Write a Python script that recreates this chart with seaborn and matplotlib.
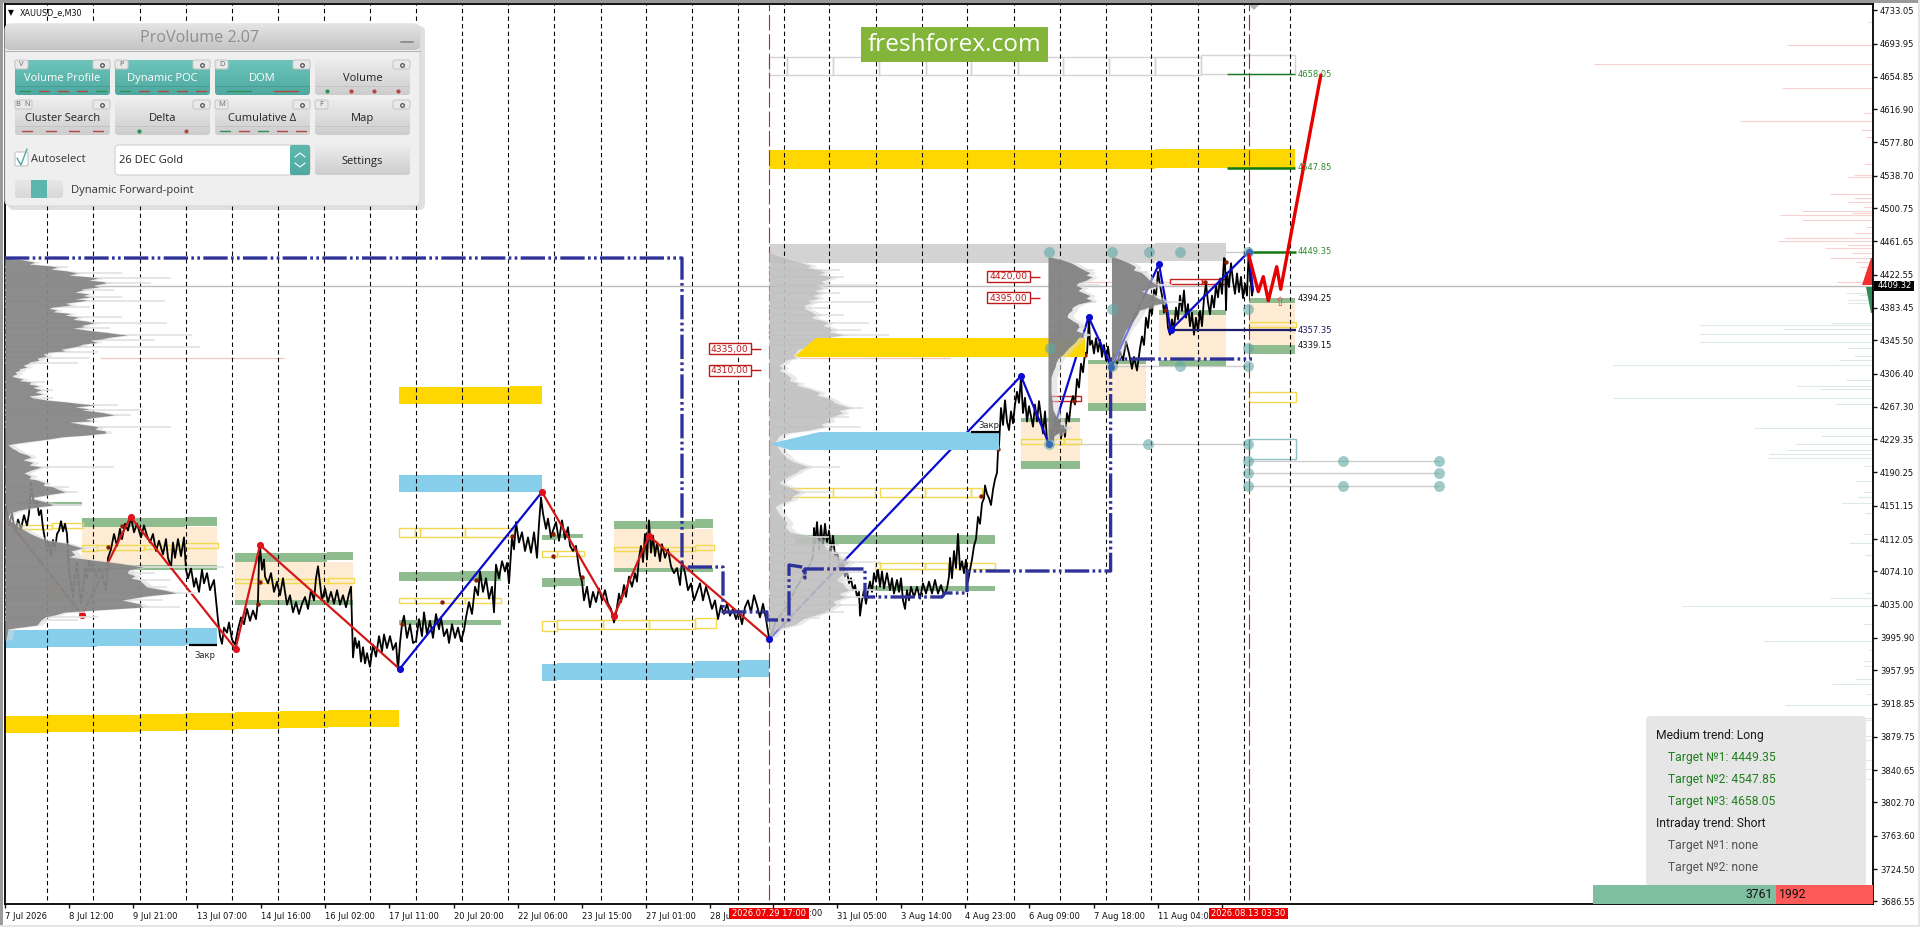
import numpy as np
import pandas as pd
import matplotlib
matplotlib.use("Agg")
import matplotlib.pyplot as plt
import seaborn as sns
from matplotlib.patches import Rectangle, FancyBboxPatch, Polygon
from matplotlib.colors import LinearSegmentedColormap

# ---------- axis data ----------
price_ticks = [4733.05,4693.95,4654.85,4616.90,4577.80,4538.70,4500.75,4461.65,4422.55,4383.45,4345.50,4306.40,
               4267.30,4229.35,4190.25,4151.15,4112.05,4074.10,4035.00,3995.90,3957.95,3918.85,3879.75,3840.65,
               3802.70,3763.60,3724.50,3686.55]
time_ticks = [5,69,133,197,261,325,389,453.5,517.5,582,645.8,709.5,773,837,901,965,1029,1093.5,1157.6,1221.6]
time_labels = ["7 Jul 2026","8 Jul 12:00","9 Jul 21:00","13 Jul 07:00","14 Jul 16:00","16 Jul 02:00","17 Jul 11:00",
               "20 Jul 20:00","22 Jul 06:00","23 Jul 15:00","27 Jul 01:00","28 Ju","","31 Jul 05:00",
               "3 Aug 14:00","4 Aug 23:00","6 Aug 09:00","7 Aug 18:00","11 Aug 04:0",""]
separators = [47.3,93.4,139.5,185.6,231.7,277.8,323.9,370,416.1,462.2,508.3,554.4,600.5,645.7,691.8,738,783.7,829.4,
              875.5,921.6,967.3,1013.5,1059.6,1105.7,1151.4,1197.6,1243.7,1289.5]
session_marks = [769.4,1248.6]
last_price = 4409.32

# ---------- price path ----------
session_1 = [(6,4150),(9,4128),(12,4142),(15,4120),(18,4135),(21,4124),(24,4140),(27,4128),(29,4142),(31,4178),(33,4160),(35,4150),(37,4156),(39,4140),(41,4146),(43,4125),(45,4112),(47,4098),(49,4108),(51,4092),(53,4111),(55,4099),(57,4118),(59,4122),(61,4133),(63,4121),(65,4130),(67,4118),(69,4076),(71,4060),(73,4044),(75,4070),(77,4084),(79,4058),(81,4037),(83,4052),(85,4078),(87,4066),(89,4086),(91,4074),(93,4084),(96,4068),(99,4078),(102,4072),(104,4060),(106,4052),(108,4090),(111,4100),(114,4118),(117,4104),(120,4124),(122,4112),(125,4130),(128,4122),(131,4138),(134,4120),(137,4130),(141,4114),(144,4128),(147,4116),(150,4108),(153,4118),(156,4098),(159,4110),(163,4094),(166,4112),(168,4090),(171,4079),(173,4108),(175,4090),(178,4112),(181,4092),(184,4114),(186,4076),(188,4066),(191,4078),(194,4056),(196,4066),(199,4050),(202,4076),(204,4060),(207,4072),(210,4052),(214,4064),(216,4040),(218,4017)]
session_2 = [(220,3998),(222,3989),(224,4008),(227,4002),(229,4014),(232,3994),(235,3988),(238,4006),(241,4020),(244,4012),(247,4030),(250,4016),(253,4028),(256,4018),(258,4040),(259,4090),(260,4103),(262,4076),(264,4088),(265,4068),(268,4060),(271,4072),(274,4050),(277,4062),(280,4046),(283,4066),(285,4050),(287,4035),(290,4046),(293,4026),(296,4038),(299,4024),(302,4036),(305,4044),(308,4030),(311,4052),(314,4040),(316,4066),(318,4080),(320,4060),(322,4040),(325,4054),(328,4038),(331,4050),(334,4036),(337,4052),(340,4035),(343,4046),(346,4032),(349,4048),(351,4056),(353,3973),(355,3996),(357,3984),(359,3992),(361,3968),(363,3985),(365,3966),(367,3978),(370,3962),(373,3988),(376,3974),(379,3998),(382,3980),(384,4000),(387,3984),(390,3998),(393,3982),(396,3990),(398,3958)]
session_3 = [(400,3990),(402,4012),(404,4022),(407,3996),(410,4012),(413,3990),(416,3992),(419,4018),(422,3998),(424,4026),(427,4000),(430,4016),(433,3996),(436,4024),(439,4006),(441,4020),(444,3998),(447,4006),(449,3990),(452,4012),(455,3996),(458,4008),(461,3992),(464,4005),(466,4020),(469,4038),(472,4024),(475,4056),(478,4046),(480,4074),(483,4050),(486,4066),(489,4042),(492,4056),(494,4026),(496,4082),(499,4066),(502,4086),(505,4074),(507,4084),(509,4060),(512,4114),(514,4100),(516,4132),(519,4108),(522,4120),(525,4098),(528,4114),(531,4096),(534,4120),(537,4090),(539,4130),(541,4161),(543,4142),(546,4124),(548,4136),(551,4114),(553,4122),(556,4132),(559,4110),(562,4134),(565,4112),(568,4126),(570,4104),(573,4098),(576,4104),(578,4086),(580,4070),(582,4062),(584,4040),(587,4056),(590,4032),(593,4050),(596,4038),(599,4054),(602,4040),(605,4052),(608,4036),(611,4030),(614,4014)]
session_4 = [(616,4024),(619,4048),(621,4038),(624,4058),(626,4044),(629,4068),(632,4056),(635,4072),(637,4062),(639,4090),(641,4104),(643,4085),(645,4118),(647,4088),(649,4134),(651,4096),(653,4116),(655,4092),(657,4108),(660,4086),(662,4106),(665,4090),(668,4100),(671,4080),(674,4072),(677,4078),(680,4058),(682,4086),(685,4072),(688,4052),(691,4060),(694,4040),(697,4050),(700,4060),(703,4040),(706,4056),(709,4044),(712,4030),(715,4040),(718,4018),(721,4034),(724,4024),(727,4036),(730,4022),(733,4030),(736,4018),(739,4028),(742,4012),(745,4032),(748,4040),(751,4026),(754,4046),(757,4034),(760,4020),(763,4036),(766,4018),(769,3996)]
session_5 = [(772,4002),(776,4016),(780,4022),(785,4030),(790,4040),(795,4052),(800,4062),(805,4074),(810,4082),(813,4092),(814,4125),(815,4105),(817,4132),(819,4100),(821,4128),(823,4104),(825,4130),(827,4108),(829,4122),(831,4098),(833,4116),(835,4092),(837,4096),(839,4086),(841,4076),(843,4082),(845,4068),(847,4074),(849,4060),(851,4066),(853,4052),(855,4058),(857,4044),(859,4050),(860,4022),(862,4040),(864,4052),(866,4036),(868,4052),(870,4062),(872,4050),(874,4072),(876,4062),(878,4076),(880,4056),(882,4074),(884,4054),(887,4072),(890,4052),(892,4066),(894,4048),(897,4064),(899,4050),(901,4066),(903,4040),(905,4030),(907,4052),(909,4040),(911,4056),(914,4044),(917,4056),(920,4042),(923,4060),(926,4048),(929,4062),(932,4048),(935,4064),(938,4048),(941,4058),(944,4046),(947,4054),(949,4068),(950,4090),(952,4066),(954,4098),(956,4078),(958,4118),(960,4076)]
session_6 = [(962,4086),(964,4072),(966,4088),(968,4062),(970,4076),(972,4088),(974,4104),(976,4112),(978,4138),(980,4130),(982,4154),(984,4160),(985,4175),(987,4165),(989,4160),(991,4152),(993,4170),(995,4182),(997,4190),(998,4215),(999,4222),(1000,4245),(1001,4266),(1003,4246),(1005,4275),(1007,4250),(1009,4240),(1011,4262),(1013,4248),(1015,4270),(1017,4285),(1019,4272),(1021,4302),(1023,4260),(1025,4278),(1027,4250),(1029,4268),(1031,4256),(1033,4244),(1035,4270),(1037,4250),(1039,4274),(1041,4256),(1043,4236),(1045,4262),(1047,4228),(1049,4222)]
session_7 = [(1051,4240),(1053,4228),(1055,4256),(1057,4236),(1059,4252),(1061,4230),(1063,4245),(1065,4232),(1067,4260),(1069,4250),(1071,4272),(1073,4280),(1075,4270),(1077,4300),(1079,4290),(1081,4318),(1083,4308),(1085,4331),(1087,4330),(1089,4372),(1090,4340),(1092,4345),(1094,4330),(1096,4348),(1098,4332),(1100,4346),(1102,4326),(1104,4340),(1106,4322),(1108,4338),(1110,4320),(1112,4312)]
session_8 = [(1114,4330),(1117,4318),(1120,4332),(1123,4322),(1126,4344),(1129,4330),(1132,4312),(1134,4326),(1137,4310),(1140,4336),(1142,4350),(1144,4340),(1146,4372),(1148,4360),(1150,4385),(1152,4376),(1154,4405),(1156,4398),(1158,4426),(1160,4410),(1162,4398),(1164,4378),(1166,4390),(1168,4360),(1170,4352)]
session_9 = [(1172,4370),(1174,4358),(1176,4384),(1178,4370),(1180,4398),(1182,4380),(1184,4404),(1186,4372),(1188,4388),(1190,4362),(1192,4378),(1194,4352),(1196,4372),(1198,4356),(1200,4380),(1202,4362),(1204,4395),(1206,4412),(1208,4390),(1210,4376),(1212,4398),(1214,4384),(1216,4410),(1218,4396),(1220,4418),(1222,4400),(1224,4442),(1225,4441),(1226,4381),(1227,4425),(1229,4408),(1231,4436),(1233,4415),(1235,4400),(1237,4424),(1239,4402),(1241,4420),(1243,4395),(1245,4412),(1247,4398),(1248.5,4445),(1250,4425),(1252,4398),(1253,4405)]

# ---------- swing lines ----------
zig_red_1 = [(6,4136.8),(82,4022.8),(130.6,4138),(235.5,3982.9),(260,4105),(399.6,3959.4)]
zig_blue_1 = [(399.6,3959.4),(542,4167.3)]
zig_red_2 = [(542,4167.3),(614,4021.7),(649,4115.6),(769.4,3994.6)]
zig_blue_2 = [(769.4,3994.6),(1021,4303.5),(1049,4223.7),(1088.6,4372.8),(1111.4,4314.1),(1159,4435.1),(1170.7,4357.6),(1248.7,4449.35),(1253,4404.5)]
forecast = [(1248.7,4445.7),(1258.3,4402.6),(1263.3,4420.2),(1268.3,4392),(1276.7,4431.9),(1280.7,4405.4),(1320.8,4657)]
poc_path = [(5,4442.1),(682,4442.1),(682,4079.2),(723,4079.2),(723,4026.4),(767,4026.4),(767,4017),(789,4017),(789,4081.6),
            (803,4079),(805,4066.3),(805,4076.9),(865,4076.9),(865,4044),(942,4044),(945,4048.7),(967,4048.7),(967,4074.5),
            (1110.6,4074.5),(1110.6,4323.5),(1252,4323.5)]
small_dots = [(15,4125),(122,4127.4),(108,4102.7),(260,4061.6),(258,4035.7),(441.6,4038),(475.5,4064),(553,4118),(553,4092),
              (581.6,4067.5),(512,4115.6),(402,4012),(998,4217.8),(981,4162.6),(1085,4328),(1074,4274),(1226,4437.4),(1205,4414),(1165,4381)]
teal_dots = [(1049,4449.35),(1112,4449.35),(1148.6,4449.35),(1180,4449.35),(1248,4449.35),(1111.7,4382.2),(1248,4382.2),(1050,4336.4),
             (1248,4336.4),(1180,4315.3),(1111.7,4315.3),(1248,4315.3),(1049,4223.7),(1148,4223.7),(1248,4223.7),(1248,4203.7),(1343,4203.7),
             (1439,4203.7),(1248,4189.6),(1439,4189.6),(1248,4174.3),(1343,4174.3),(1439,4174.3)]
gray_links = [(1049,1248,4449.35),(1112,1248,4315.3),(1049,1248,4223.7),(1248,1439,4203.7),(1248,1439,4189.6),(1248,1439,4174.3)]

# ---------- zones: (start, end, low, high) ----------
gold_bands = [(399,510,4270.6,4290.6),(510,542,4270.6,4291.8),(769,1155,4546.7,4569),(1155,1295,4547.8,4570.2),
              (5,48,3884.2,3904.2),(48,140,3885.4,3905.4),(140,185,3886.6,3906.6),(185,235,3887.8,3907.7),(235,280,3889,3908.9),
              (280,328,3890.1,3910.1),(328,373,3891.3,3911.3),(373,399,3891.3,3911.3)]
sky_bands = [(399,542,4167.3,4187.3),(542,557,3945.3,3965.3),(557,695,3946.5,3966.5),(695,741,3948.8,3968.8),(741,769,3950,3970),
             (5,48,3984,4005.2),(48,97,3985.2,4006.4),(97,185,3986.4,4006.4),(185,217,3987.6,4007.6)]
silver_bands = [(769,1155,4436.2,4458.6),(1155,1226,4438.6,4459.8)]
bisque_zones = [(82,217,4081.6,4126.2),(235,353,4040.4,4085),(614,713,4078,4123.8),(1021,1080,4203.7,4249.5),
                (1088,1146,4271.8,4317.6),(1159,1226,4322.3,4375.2),(1249,1295,4339.9,4389.3)]
green_zones = [(82,185,4126.2,4136.8),(185,217,4127.4,4138),(82,217,4075.7,4081.6),(15,82,4150.8,4155.6),(235,327,4085,4095.6),
               (327,353,4087.4,4096.8),(235,353,4034.6,4040.4),(399,460,4062.8,4073.3),(460,501,4062.8,4074),(399,501,4011,4016.9),
               (542,557,4110.9,4116.8),(557,583,4113.3,4118),(542,557,4055.7,4066.3),(557,585,4056.9,4066.3),(614,695,4123.8,4133.2),
               (695,713,4125,4135.6),(614,713,4073.3,4078),(795,995,4106.2,4116.8),(869,995,4051,4056.9),(1021,1080,4249.5,4254.2),
               (1021,1080,4194.3,4203.7),(1088,1146,4317.6,4322.3),(1088,1146,4262.4,4271.8),(1159,1226,4375.2,4381),(1159,1226,4315.3,4322.3),
               (1249,1295,4389.3,4395.1),(1249,1295,4329.4,4339.9)]
gold_boxes = [(13,52,4123.8,4128.5),(52,83,4125,4131),(82,97,4098,4105),(97,144,4099.2,4105),(144,185,4100.3,4105),(185,218,4101.5,4107.4),
              (5,52,4044,4053.4),(52,66,4044,4053.4),(235,282,4060.4,4065),(282,328,4060.4,4065),(328,354,4060.4,4066.3),
              (399,415,4114.4,4125),(415,420,4114.4,4125),(420,465,4114.4,4125),(465,513,4114.4,4125),(399,415,4036.9,4042.8),
              (415,465,4036.9,4042.8),(465,501,4036.9,4042.8),(542,557,4091,4098),(557,584,4092.1,4098),(542,557,4004,4015.8),
              (557,603,4006.4,4016.9),(603,649,4006.4,4016.9),(649,695,4006.4,4016.9),(695,716,4007.6,4019.3),(614,695,4098,4102.7),
              (695,714,4099.2,4105),(783,833,4161.4,4172),(833,875,4161.4,4172),(880,925,4161.4,4172),(925,971,4161.4,4172),(971,982,4161.4,4172),
              (875,880,4076.9,4083.9),(880,925,4076.9,4083.9),(925,948,4076.9,4083.9),(948,995,4076.9,4083.9),(1021,1064,4223.7,4229.5),
              (1064,1081,4223.7,4229.5),(1249,1296,4361.1,4367),(1249,1296,4273,4284.7)]
gray_boxes = [(769,787,4657.1,4678.2),(787,833,4657.1,4678.2),(833,879,4657.1,4678.2),(879,926,4657.1,4678.2),(926,971,4657.1,4678.2),
              (971,1017.5,4657.1,4678.2),(1017.5,1063,4657.1,4678.2),(1063,1109,4657.1,4678.2),(1109,1155,4657.1,4678.2),(1155,1201,4657.1,4678.2),
              (1201,1295,4658.2,4680.6)]
red_boxes = [(1050,1081,4274,4280),(1170,1202,4411.6,4417.5),(1202,1227,4411.6,4417.5)]
teal_boxes = [(1249,1296,4206.1,4229.5)]

# ---------- volume profiles: (price, volume) ----------
p1_core = [(4442,0),(4441,10),(4439.8,19),(4437,30),(4435,24),(4433,44),(4431.6,52),(4429,46),(4427,62),(4424.5,72),(4422,64),(4420,84),(4418.6,93),(4416,84),(4414.5,98),(4412.8,101),(4410,88),(4408,94),(4406,78),(4404.5,77),(4402,70),(4400,84),(4398,78),(4396.3,85),(4394,70),(4393,82),(4391.6,77),(4389,60),(4387,66),(4384.6,48),(4383,44),(4381,52),(4379,48),(4377,66),(4375,60),(4372.8,73),(4370,68),(4368,82),(4365.8,89),(4363,76),(4361.5,80),(4359.9,68),(4357,84),(4355,100),(4353,112),(4351.7,122),(4349,104),(4347,96),(4345.8,85),(4343,92),(4341,78),(4339,74),(4337.6,68),(4335,56),(4333,60),(4331.7,44),(4329,38),(4327,42),(4324.7,32),(4322,34),(4320,24),(4318.8,24),(4316,18),(4314,22),(4312,14),(4310.6,15),(4308,10),(4306,12),(4304,7),(4302.4,9),(4300,18),(4298,14),(4296.5,26),(4294,24),(4292,34),(4290,28),(4287.1,36),(4285,30),(4282,38),(4280,24),(4277.7,28),(4275,44),(4273,62),(4271,76),(4269.5,89),(4267,70),(4265,84),(4263.6,77),(4261,96),(4259,104),(4257.7,109),(4255,90),(4253,80),(4251,88),(4249.5,64),(4247,76),(4245,88),(4243.6,93),(4241,90),(4239,100),(4236.6,101),(4234,80),(4232,56),(4230,46),(4228.4,36),(4226,20),(4224,8),(4222.5,3),(4220,6),(4218,8),(4216.6,11),(4214,14),(4211,22),(4208.4,26),(4205,18),(4202,28),(4199,24),(4196.7,36),(4193,26),(4189.6,19),(4186,26),(4183,24),(4181.4,32),(4178,40),(4175,38),(4173.2,48),(4170,54),(4167.3,60),(4164,42),(4160.3,24),(4157,36),(4154,44),(4152,48),(4149,28),(4146,14),(4142.6,5),(4138,3),(4134.4,3),(4130,10),(4126,14),(4122.7,19),(4118,26),(4114,34),(4111,40),(4107,62),(4104,70),(4101.5,77),(4098,66),(4094,70),(4091,64),(4087,90),(4084,112),(4079.2,138),(4076,124),(4072.2,122),(4069,130),(4066,126),(4064,134),(4060,138),(4055.7,142),(4052,160),(4048.7,171),(4045,140),(4040.4,117),(4036,134),(4032.2,138),(4029,96),(4026.4,60),(4023,50),(4020.5,40),(4017,36),(4014,34),(4011,32),(4008,12),(4006.4,3),(3993.5,1)]
p1_spike_price = [4431.6,4424.5,4418.6,4412.8,4404.5,4396.3,4391.6,4384.6,4372.8,4365.8,4359.9,4351.7,4345.8,4337.6,4331.7,4324.7,4318.8,4296.5,4287.1,4277.7,4269.5,4263.6,4257.7,4249.5,4243.6,4196.7,4173.2,4167.3,4152,4101.5,4091,4079.2,4072.2,4064,4055.7,4048.7,4040.4,4032.2,4026.4,4020.5,4017]
p1_spike_size = [63,117,166,146,109,117,160,85,117,162,105,187,150,195,93,85,73,40,48,48,113,138,126,85,166,109,64,73,77,93,77,219,150,166,162,191,158,175,80,93,73]
p2_core = [(4449,0),(4445,8),(4443,14),(4440,22),(4436,34),(4433,42),(4431,38),(4428,51),(4425,56),(4423,50),(4420,63),(4417,58),(4415,52),(4412,56),(4410,47),(4407,54),(4404,46),(4401,51),(4398,44),(4395,50),(4392,38),(4390,43),(4387,36),(4383,35),(4381,39),(4378,44),(4375,47),(4372,42),(4369,52),(4366,59),(4363,54),(4360,60),(4357.6,63),(4355,60),(4352,75),(4349,58),(4346,51),(4343,42),(4340,47),(4337,36),(4334,28),(4331,27),(4328,24),(4325,27),(4322,16),(4319,14),(4316,10),(4313,14),(4310,10),(4308,14),(4305,18),(4301,22),(4298,20),(4295,30),(4293,27),(4290,36),(4287,44),(4284,51),(4281,48),(4278,58),(4275,63),(4272,66),(4269,74),(4266,80),(4263,70),(4260,74),(4256,63),(4253,58),(4250,60),(4247,52),(4244,55),(4240,40),(4236,14),(4232,9),(4229,8),(4226,6),(4222,8),(4218,10),(4214,12),(4210,16),(4207,18),(4203,24),(4200,32),(4197,39),(4193,30),(4190,27),(4186,20),(4182,14),(4178,10),(4174,18),(4170,26),(4167,31),(4163,24),(4158,22),(4154,12),(4150,6),(4146,8),(4142,10),(4137,14),(4131,18),(4126,16),(4120,22),(4117,34),(4114,47),(4110,50),(4105,55),(4100,58),(4096,63),(4092,68),(4088,74),(4085,80),(4081,76),(4077,70),(4073,76),(4069,72),(4064,67),(4060,74),(4056,76),(4052,80),(4048,70),(4044,76),(4039,64),(4035,67),(4030,60),(4026,55),(4022,44),(4019,35),(4015,30),(4012,27),(4008,14),(4005,6),(3997,2)]
p2_spike_price = [4428,4419.8,4410.4,4401,4390.4,4383.4,4375.2,4365.8,4357.6,4351.7,4345.8,4340,4266,4255.4,4243.6,4196.7,4167.3,4114.4,4105,4095.6,4085,4073.3,4064,4052.2,4044,4034.6,4026.4,4019.3]
p2_spike_size = [71,75,108,71,106,60,75,100,92,120,70,60,94,80,92,71,63,60,70,80,112,96,86,106,100,90,75,51]
p3_core = [(4443,3),(4440,14),(4436,24),(4432,30),(4428,36),(4425,42),(4422,38),(4420,44),(4416,38),(4413,30),(4410,28),(4407,34),(4404,30),(4401,36),(4398,42),(4395,38),(4392,44),(4388,30),(4384,24),(4381,24),(4377,20),(4373,19),(4369,24),(4365,30),(4361,31),(4357,28),(4354,34),(4352,36),(4348,30),(4343,27),(4338,22),(4333,18),(4329,15),(4324,10),(4319,8),(4314,7),(4309,5),(4302,3),(4284,3),(4275,4),(4264,5),(4256,8),(4248,11),(4243,17),(4238,12),(4234,7),(4229,3),(4225,0)]
p3_spike_price = [4428,4410.4,4390.4,4361.1,4351.7,4243]
p3_spike_size = [46,52,48,36,42,24]
p4_core = [(4443,3),(4440,10),(4436,18),(4432,24),(4428,22),(4425,30),(4421,34),(4416,38),(4413,42),(4410,47),(4406,36),(4403,30),(4399,40),(4394,48),(4390,55),(4387,42),(4383,34),(4381,28),(4376,26),(4369,22),(4363,18),(4357,14),(4351,12),(4345,10),(4339,8),(4334,6),(4328,4),(4324,2),(4321,0)]
p4_spike_price = [4425.7,4410.4,4390.4,4381]
p4_spike_size = [36,60,70,34]

# ---------- order book ----------
ask_price = [4719,4692.3,4670,4641.8,4612.4,4603,4592.5,4584.2,4552.5,4539.6,4537.3,4517.3,4512.6,4507.9,4502,4497.3,4495,4492.6,4486.8,4478.5,4471.5,4465.6,4462.1,4457.4,4453.9,4448,4442.1,4437.4,4431.6,4425.7,4422.2,4414,4411.6]
ask_size = [5,86,279,91,9,133,12,7,8,19,25,43,19,25,9,71,21,93,71,7,19,88,95,25,48,21,43,17,13,9,7,36,11]
bid_price = [4401,4398.7,4392.8,4389.3,4365.8,4363.4,4358.7,4352.9,4343.5,4336.4,4327,4322.3,4316.5,4298.8,4291.8,4288.3,4277.7,4270.7,4242.5,4233.1,4223.7,4216.6,4211.9,4207.2,4197.8,4180.2,4167.3,4161.4,4154.4,4142.6,4117.9,4107.4,4093.3,4048.7,4042.8,4033.4,4012.3,3992.3,3981.7,3968.8,3963,3947.7,3941.8,3930,3917.1,3901.9,3899.5,3880.7,3876,3852.5,3841.9,3830,3692.8]
bid_size = [27,14,26,25,41,173,90,173,173,26,19,34,260,27,76,53,260,37,119,52,77,86,104,105,9,17,10,15,31,8,10,24,8,8,43,191,10,109,4,9,9,17,41,7,88,31,21,21,9,17,173,7,174]
book_total = [3761,1992]

# ---------- labels ----------
target_labels = [(4658.05,"4658.05","#2e8b2e"),(4547.85,"4547.85","#2e8b2e"),(4449.35,"4449.35","#2e8b2e"),
                 (4394.25,"4394.25","#111111"),(4357.35,"4357.35","#1a1a60"),(4339.15,"4339.15","#111111")]
level_labels = [(708.6,750.6,4335.00),(708.6,750.6,4310.00),(987,1030,4420.00),(987,1030,4395.00)]
panel_lines = [("Medium trend: Long","#1a1a1a",0),("Target №1: 4449.35","#1f7f1f",1),("Target №2: 4547.85","#1f7f1f",1),
               ("Target №3: 4658.05","#1f7f1f",1),("Intraday trend: Short","#1a1a1a",0),("Target №1: none","#555555",1),("Target №2: none","#555555",1)]

# ---------- figure ----------
sns.set_style("white")
plt.rcParams["font.family"] = ["DejaVu Sans"]
fig = plt.figure(figsize=(19.2, 9.27), dpi=100, facecolor="white")
ax = fig.add_axes([5/1920, 23/927, 1868/1920, 900/927])
ax.set_xlim(5, 1873)
ax.set_ylim(3683.4, 4740.45)
ax.set_facecolor("white")
for s in ax.spines.values():
    s.set_visible(True); s.set_color("black"); s.set_linewidth(1.3)

ax.yaxis.tick_right()
ax.set_yticks(price_ticks)
ax.set_yticklabels([f"{v:.2f}" for v in price_ticks], fontsize=6, color="#111111")
ax.set_xticks(time_ticks)
ax.set_xticklabels(time_labels, fontsize=6, ha="left", color="#111111")
ax.tick_params(axis="y", length=3, width=1, pad=2, colors="#111111", right=True)
ax.tick_params(axis="x", length=3, width=1, pad=3, colors="#111111", bottom=True)

bottom_end = 3688.5
ax.vlines(separators, bottom_end, 4740, colors="black", linewidth=0.78, linestyles=[(0, (4, 3))], zorder=3)
ax.vlines(session_marks, bottom_end, 4740, colors="#cc2020", linewidth=0.8, linestyles=[(0, (14, 3.4))], zorder=3)
ax.axhline(last_price, color="#bdbdbd", lw=1, zorder=1.2)

def rects(items, z, **kw):
    for a, b, lo, hi in items:
        ax.add_patch(Rectangle((a, lo), b - a, hi - lo, zorder=z, **kw))

rects(bisque_zones, 1, facecolor="#fdebd3", edgecolor="none")
rects(green_zones, 1.5, facecolor="#8fbc8f", edgecolor="none")
rects(gold_bands, 1.6, facecolor="#ffd700", edgecolor="none")
rects(sky_bands, 1.6, facecolor="#87ceeb", edgecolor="none")
rects(silver_bands, 1.4, facecolor="#d3d3d3", edgecolor="none")
rects(gold_boxes, 2, facecolor="none", edgecolor="#f2d94e", linewidth=1)
rects(gray_boxes, 2, facecolor="none", edgecolor="#d4d4d4", linewidth=1)
rects(red_boxes, 2, facecolor="none", edgecolor="#c8201c", linewidth=1)
rects(teal_boxes, 2, facecolor="none", edgecolor="#8fc1c6", linewidth=1)

# thin traces
ax.hlines([4324.7, 4324.7, 4414], [100, 800, 1050], [284, 950, 1170], colors="#f4c6c6", lw=0.9, zorder=1.3)
ax.hlines(4357.35, 1170.7, 1296, colors="#1d1d66", lw=1.6, zorder=4.8)
ax.hlines([4658.05], 1226.5, 1295, colors="#1a7a1a", lw=1, zorder=4.8)
ax.hlines([4547.85, 4449.35], [1226.5, 1248.7], [1295, 1296], colors="#0f7a0f", lw=1.8, zorder=4.8)
for a, b, p in gray_links:
    ax.hlines(p, a, b, colors="#cccccc", lw=1, zorder=1.3)

# price and swing lines
path = pd.DataFrame(session_1 + session_2 + session_3 + session_4 + session_5 + session_6 + session_7 + session_8 + session_9,
                    columns=["bar", "price"])
sns.lineplot(data=path, x="bar", y="price", estimator=None, sort=False, color="black", lw=1.3, ax=ax, zorder=4)

def swing(points, color, lw, z):
    d = pd.DataFrame(points, columns=["bar", "price"])
    sns.lineplot(data=d, x="bar", y="price", estimator=None, sort=False, color=color, lw=lw, ax=ax, zorder=z)
    return d

poc = pd.DataFrame(poc_path, columns=["bar", "price"])
ax.plot(poc.bar, poc.price, color="#2f3399", lw=2.4, ls=(0, (7.3, 1.0, 0.8, 1.0, 0.8, 1.0)), zorder=4.65, solid_capstyle="butt")
r1 = swing(zig_red_1, "#d41818", 1.6, 4.3)
b1 = swing(zig_blue_1, "#0a0ad0", 1.6, 4.3)
r2 = swing(zig_red_2, "#d41818", 1.6, 4.3)
b2 = swing(zig_blue_2, "#0a0ad0", 1.6, 4.3)
swing(forecast, "#e60000", 2.4, 8)

red_pts = pd.concat([r1.iloc[1:-1], r2.iloc[:-1]])
sns.scatterplot(data=red_pts, x="bar", y="price", color="#e0101c", s=26, linewidth=0, ax=ax, zorder=4.4, legend=False)
blue_pts = pd.concat([b1.iloc[[0]], b2.iloc[:-2], b2.iloc[[-2]]])
sns.scatterplot(data=blue_pts, x="bar", y="price", color="#0a0ad0", s=26, linewidth=0, ax=ax, zorder=6.2, legend=False)
d = pd.DataFrame(small_dots, columns=["bar", "price"])
sns.scatterplot(data=d, x="bar", y="price", color="#8b1a00", s=10, linewidth=0, ax=ax, zorder=4.4, legend=False)

# profiles
def profile(base, core, spike_price, spike_size, color, z, alpha):
    arr = np.array(core, float)
    ax.hlines(spike_price, base, base + np.array(spike_size, float), colors="#e2e2e2", lw=1.2, zorder=z - 0.1)
    ax.fill_betweenx(arr[:, 0], base, base + arr[:, 1] + 6, color="#d8d8d8", linewidth=0, zorder=z - 0.05, alpha=0.55)
    ax.fill_betweenx(arr[:, 0], base, base + arr[:, 1], color=color, linewidth=0, zorder=z, alpha=alpha)

profile(5, p1_core, p1_spike_price, p1_spike_size, "#808080", 4.5, 0.88)
profile(769, p2_core, p2_spike_price, p2_spike_size, "#bcbcbc", 4.5, 0.8)
# gold and blue bars running out of the second profile
ax.add_patch(Polygon([(795, 4327), (816, 4348.2), (1085, 4348.2), (1085, 4325.8), (800, 4325.8)], facecolor="#ffd700", edgecolor="none", zorder=4.6))
ax.add_patch(Polygon([(770, 4224), (820, 4237.8), (999, 4237.8), (999, 4216.6), (790, 4216.6)], facecolor="#87ceeb", edgecolor="none", zorder=4.6))
profile(1048, p3_core, p3_spike_price, p3_spike_size, "#808080", 5, 0.92)
profile(1111.5, p4_core, p4_spike_price, p4_spike_size, "#808080", 5, 0.9)

td = pd.DataFrame(teal_dots, columns=["bar", "price"])
sns.scatterplot(data=td, x="bar", y="price", color="#5fa8a6", s=62, alpha=0.6, linewidth=0, ax=ax, zorder=6.4, legend=False)

# order book
ax.hlines(ask_price, 1873 - np.array(ask_size), 1873, colors="#f7d0d0", lw=0.8, zorder=1.3)
ax.hlines(bid_price, 1873 - np.array(bid_size), 1873, colors="#dceae4", lw=0.8, zorder=1.3)
ax.add_patch(Polygon([(1871, 4442), (1873, 4442), (1873, 4410), (1862, 4410)], facecolor="#f03030", edgecolor="none", zorder=2))
ax.add_patch(Polygon([(1866, 4408), (1873, 4408), (1873, 4378), (1871, 4378)], facecolor="#2e8b57", edgecolor="none", zorder=2))

# texts tied to prices
for p, t, c in target_labels:
    ax.text(1298, p, t, fontsize=6, color=c, va="center", ha="left", zorder=9)
for a, b, p in level_labels:
    ax.add_patch(Rectangle((a, p - 6), b - a, 13, facecolor="white", edgecolor="#c01818", lw=1, zorder=7))
    ax.hlines(p, b, b + 10, colors="#c01818", lw=1, zorder=7)
    ax.text((a + b) / 2, p, f"{p:.2f}".replace(".", ","), fontsize=6.6, color="#c01818", ha="center", va="center", zorder=8)
ax.hlines(3987.6, 189, 217, colors="black", lw=1.6, zorder=5)
ax.text(205, 3981, "Закр", fontsize=6, color="#222222", ha="center", va="top", zorder=8)
ax.hlines(4237.8, 971, 999, colors="black", lw=1.6, zorder=5.5)
ax.text(989, 4240, "Закр", fontsize=6, color="#222222", ha="center", va="bottom", zorder=8)
ax.text(1280, 4390, "⇧", fontsize=9, color="#e04040", ha="center", va="center", zorder=8)
ax.set_xlabel(""); ax.set_ylabel("")

# ---------- interface layer ----------
ui = fig.add_axes([0, 0, 1, 1], zorder=10)
ui.set_xlim(0, 1920); ui.set_ylim(927, 0); ui.axis("off"); ui.patch.set_alpha(0)

def box(x0, x1, y0, y1, fc, ec="none", r=0.0, z=1, lw=0.8, alpha=1):
    if r > 0:
        p = FancyBboxPatch((x0 + r, y0 + r), x1 - x0 - 2*r, y1 - y0 - 2*r, boxstyle=f"round,pad={r},rounding_size={r}",
                           fc=fc, ec=ec, lw=lw, zorder=z, alpha=alpha)
    else:
        p = Rectangle((x0, y0), x1 - x0, y1 - y0, fc=fc, ec=ec, lw=lw, zorder=z, alpha=alpha)
    ui.add_patch(p)
    return p

def grad(x0, x1, y0, y1, c0, c1, z=2, r=3.0):
    clip = box(x0, x1, y0, y1, "none", r=r, z=z)
    cm = LinearSegmentedColormap.from_list("g", [c0, c1])
    im = ui.imshow(np.linspace(0, 1, 64)[:, None], extent=(x0, x1, y1, y0), aspect="auto", cmap=cm, zorder=z)
    im.set_clip_path(clip)
    ui.set_xlim(0, 1920); ui.set_ylim(927, 0)

# window frame
box(0, 1920, 0, 2.5, "#9a9a9a", z=1)
box(0, 3, 0, 927, "#9a9a9a", z=1)
box(0, 1920, 925, 927, "#e6e6e6", z=1)
box(1918, 1920, 0, 927, "#e6e6e6", z=1)

ui.text(8, 13, "▼", fontsize=5.5, color="black", va="center")
ui.text(20, 12.8, "XAUUSD_e,M30", fontsize=5.8, color="#111111", va="center")

# logo
box(861, 1048, 27, 62, "#82b53a", z=1)
ui.text(954.5, 44.5, "freshforex.com", fontsize=17.6, color="white", family="Open Sans", ha="center", va="center", zorder=2)

# tool panel
box(8, 425, 26, 210, "#000000", r=6, z=1, alpha=0.12)
box(5, 420, 24, 206, "#efefef", ec="#d8d8d8", r=6, z=1.2)
grad(5, 420, 24, 50, "#e4e4e4", "#c4c4c4", z=1.4, r=5)
ui.plot([5, 420], [50.5, 50.5], color="#b5b5b5", lw=0.8, zorder=1.5)
ui.text(200, 38, "ProVolume 2.07", fontsize=11.6, color="#8f8f8f", family="Open Sans", ha="center", va="center", zorder=3)
ui.plot([401, 413], [42, 42], color="#8f8f8f", lw=1.4, zorder=3)

cols = [(15, 110), (115, 210), (215, 310), (315, 410)]
btn_names = ["Volume Profile", "Dynamic POC", "DOM", "Volume", "Cluster Search", "Delta", "Cumulative Δ", "Map"]
btn_keys = ["V", "P", "D", "", "B  N", "", "M", "F"]
G, R = "#2f8f57", "#b5473f"
btn_marks = [("dash", [G, R, R, R, G]), ("dash", [G, R, R, R, R]), ("long", [G, R]), ("dot", [G, R, R, R]),
             ("dash", [R, R, R, R]), ("dot", [G, R]), ("dash", [G, R, G, R, R]), ("none", [])]
for i, name in enumerate(btn_names):
    x0, x1 = cols[i % 4]
    y0, y1 = (60, 95) if i < 4 else (100, 135)
    active = i < 3
    grad(x0, x1, y0, y1, "#6cc4ba" if active else "#ececec", "#4fa9a0" if active else "#cdcdcd", z=2)
    box(x0 + 78, x1, y0, y0 + 9, "#e9e9e9", ec="#c8c8c8", r=2, z=3)
    ui.scatter([x1 - 8.5], [y0 + 4.5], s=14, marker="8", color="#555555", zorder=4, linewidths=0)
    ui.scatter([x1 - 8.5], [y0 + 4.5], s=3, marker="o", color="#e9e9e9", zorder=5, linewidths=0)
    if btn_keys[i]:
        w = 17 if len(btn_keys[i]) > 1 else 13
        box(x0, x0 + w, y0, y0 + 9, "#e9e9e9", ec="#c8c8c8", r=2, z=3)
        ui.text(x0 + w/2, y0 + 4.5, btn_keys[i], fontsize=5.5, color="#666666", family="Open Sans", ha="center", va="center", zorder=4)
    ui.text((x0 + x1)/2, y0 + 18, name, fontsize=8, color="white" if active else "#222222", family="Open Sans", ha="center", va="center", zorder=4)
    kind, marks = btn_marks[i]
    ui.plot([x0 + 1, x1 - 1], [y1 - 9, y1 - 9], color="#3f9a90" if active else "#c0c0c0", lw=0.6, zorder=3)
    n = len(marks)
    for j, c in enumerate(marks):
        cx = x0 + (j + 0.5) * (x1 - x0) / max(n, 1)
        if kind == "dash":
            ui.plot([cx - 5, cx + 5], [y1 - 4.5, y1 - 4.5], color=c, lw=1, zorder=4)
        elif kind == "long":
            ui.plot([cx - 12, cx + 12], [y1 - 4.5, y1 - 4.5], color=c, lw=1, zorder=4)
        elif kind == "dot":
            ui.scatter([cx], [y1 - 4.5], s=9, color=c, zorder=4, linewidths=0)

box(15, 28, 152, 166, "#ffffff", ec="#c4c4c4", r=1.5, z=3)
ui.plot([17, 21, 27], [158, 165, 149], color="#4fa9a0", lw=1, zorder=4)
ui.text(31, 159, "Autoselect", fontsize=8, color="#333333", family="Open Sans", va="center", zorder=4)
box(115, 310, 145, 175, "#ffffff", ec="#d0d0d0", r=4, z=3)
grad(290, 310, 145, 175, "#5fb8ae", "#4fa9a0", z=3.2, r=2)
ui.plot([295, 300, 305], [157, 153, 157], color="white", lw=0.8, zorder=4)
ui.plot([295, 300, 305], [163, 167, 163], color="white", lw=0.8, zorder=4)
ui.text(119, 160.5, "26 DEC Gold", fontsize=8, color="#222222", family="Open Sans", va="center", zorder=4)
grad(315, 410, 145, 175, "#ececec", "#cdcdcd", z=3)
ui.text(362.5, 161, "Settings", fontsize=8, color="#222222", family="Open Sans", ha="center", va="center", zorder=4)
grad(15, 63, 180, 198, "#e8e8e8", "#d8d8d8", z=3)
box(31, 47, 180, 198, "#5cb6ad", z=3.5)
ui.text(71, 190, "Dynamic Forward-point", fontsize=8, color="#333333", family="Open Sans", va="center", zorder=4)

# trend panel
box(1646, 1866, 716, 886, "#e6e6e6", r=4, z=2)
rows = [736, 758, 780, 802, 824, 846, 868]
for (t, c, ind), y in zip(panel_lines, rows):
    ui.text(1668 if ind else 1655.5, y, t, fontsize=8.7, color=c, family="Roboto", va="center", zorder=3)

# total volume bar
box(1593, 1776, 885, 904, "#7fbf9f", z=2)
box(1776, 1873, 885, 904, "#ff5a5a", z=2)
ui.text(1773, 895, str(book_total[0]), fontsize=8.7, color="#111111", family="Roboto", ha="right", va="center", zorder=3)
ui.text(1779, 895, str(book_total[1]), fontsize=8.7, color="#111111", family="Roboto", ha="left", va="center", zorder=3)

# last price tag and red time tags
box(1874, 1914, 281, 290.5, "black", z=3)
ui.text(1878, 285.8, f"{last_price:.2f}", fontsize=6, color="white", va="center", zorder=4)
ui.text(809, 913.2, ":00", fontsize=6, color="#111111", va="center", zorder=4)
for a, b, t in [(729, 808.6, "2026.07.29 17:00"), (1208.6, 1288, "2026.08.13 03:30")]:
    box(a, b, 908, 919, "#ee0000", z=3)
    ui.text((a + b)/2, 913.5, t, fontsize=6, color="white", ha="center", va="center", zorder=4)
ui.add_patch(Polygon([(1249, 5), (1259, 5), (1254, 10)], fc="#b5b5b5", ec="none", zorder=3))

fig.savefig("out.png", dpi=100, facecolor="white")
